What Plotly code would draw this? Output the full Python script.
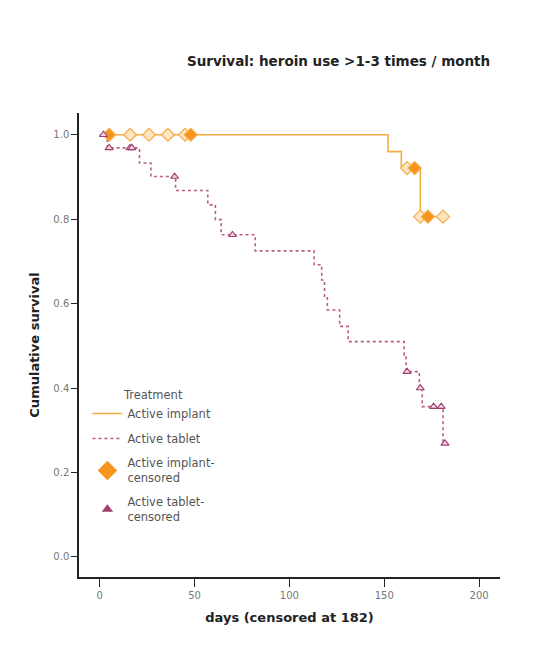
import plotly.graph_objects as go

# ---------------- data ----------------
implant_event_days = [152, 159, 169]
implant_event_surv = [0.960, 0.921, 0.806]
implant_cens_days = [5, 16, 26, 36, 45, 48, 162, 166, 169, 173, 181]
implant_cens_counts = [2, 1, 1, 1, 1, 2, 1, 2, 1, 2, 1]

tablet_event_days = [4, 21, 27, 40, 57, 61, 64, 82, 113, 117, 118.5, 120,
                     126.5, 131, 160.5, 161.5, 168.5, 170, 181]
tablet_event_surv = [0.969, 0.933, 0.901, 0.868, 0.834, 0.799, 0.763, 0.725,
                     0.692, 0.656, 0.617, 0.585, 0.546, 0.510, 0.478, 0.439,
                     0.400, 0.356, 0.269]
tablet_cens_days = [2, 5, 16, 17, 39.5, 70, 162, 169, 176, 180, 182]
tablet_cens_counts = [1, 1, 1, 1, 1, 1, 1, 1, 1, 1, 1]

follow_up_end = 182
x_ticks = [0, 50, 100, 150, 200]
y_ticks = [0.0, 0.2, 0.4, 0.6, 0.8, 1.0]

title_text = "Survival: heroin use >1-3 times / month"
x_title = "days (censored at 182)"
y_title = "Cumulative survival"
legend_title = "Treatment"
names = ["Active implant", "Active tablet",
         "Active implant-<br>censored", "Active tablet-<br>censored"]

# ---------------- helpers ----------------
def step_curve(ev_days, ev_surv, end):
    xs = [0] + list(ev_days) + [end]
    ys = [1.0] + list(ev_surv) + [ev_surv[-1]]
    return xs, ys

def surv_at(t, ev_days, ev_surv):
    s = 1.0
    for d, v in zip(ev_days, ev_surv):
        if d <= t:
            s = v
    return s

ORANGE = "#f4ad45"
ORANGE_FILL = "#fde6c4"
ORANGE_SOLID = "#f7941d"
PLUM = "#b95d88"
PLUM_DARK = "#a23e6c"
PLUM_FILL = "#f3d9e4"

fig = go.Figure()

# survival curves
ix, iy = step_curve(implant_event_days, implant_event_surv, follow_up_end)
fig.add_trace(go.Scatter(x=ix, y=iy, mode="lines", line_shape="hv",
                         line=dict(color=ORANGE, width=1.6),
                         name=names[0], legendgroup="a", showlegend=True,
                         hoverinfo="skip"))
tx, ty = step_curve(tablet_event_days, tablet_event_surv, follow_up_end)
fig.add_trace(go.Scatter(x=tx, y=ty, mode="lines", line_shape="hv",
                         line=dict(color=PLUM, width=1.6, dash="dot"),
                         name=names[1], legendgroup="b", showlegend=True,
                         hoverinfo="skip"))

# censored markers
ic_y = [surv_at(d, implant_event_days, implant_event_surv) for d in implant_cens_days]
fig.add_trace(go.Scatter(
    x=implant_cens_days, y=ic_y, mode="markers", showlegend=False,
    marker=dict(symbol="diamond", size=10,
                color=[ORANGE_SOLID if c > 1 else ORANGE_FILL for c in implant_cens_counts],
                line=dict(color=ORANGE, width=1.2))))
tc_y = [surv_at(d, tablet_event_days, tablet_event_surv) for d in tablet_cens_days]
fig.add_trace(go.Scatter(
    x=tablet_cens_days, y=tc_y, mode="markers", showlegend=False,
    marker=dict(symbol="triangle-up", size=7,
                color=[PLUM_DARK if c > 1 else PLUM_FILL for c in tablet_cens_counts],
                line=dict(color=PLUM_DARK, width=1.1))))

# legend proxies for censored markers
fig.add_trace(go.Scatter(x=[None], y=[None], mode="markers", name=names[2],
                         legendgroup="c",
                         marker=dict(symbol="diamond", size=15, color=ORANGE_SOLID,
                                     line=dict(color=ORANGE_SOLID, width=0))))
fig.add_trace(go.Scatter(x=[None], y=[None], mode="markers", name=names[3],
                         legendgroup="d",
                         marker=dict(symbol="triangle-up", size=10, color=PLUM_DARK,
                                     line=dict(color=PLUM_DARK, width=0))))

AX_FONT = "DejaVu Sans, Verdana, sans-serif"
fig.update_layout(
    width=534, height=655,
    margin=dict(l=79, r=34, t=113, b=78),
    paper_bgcolor="white", plot_bgcolor="white",
    font=dict(family=AX_FONT, color="#555"),
    title=dict(text="<b>" + title_text + "</b>", x=0.634, xanchor="center",
               y=1 - 61 / 655, yanchor="middle",
               font=dict(size=13.5, color="#222", family=AX_FONT)),
    xaxis=dict(range=[-10.9, 211], tickvals=x_ticks, ticktext=[str(v) for v in x_ticks],
               showgrid=False, zeroline=False, showline=True, linecolor="#222",
               linewidth=1.5, ticks="outside", ticklen=8, tickwidth=1.3, tickcolor="#222",
               tickfont=dict(size=10, color="#777"),
               title=dict(text="<b>" + x_title + "</b>", standoff=13,
                          font=dict(size=13, color="#222"))),
    yaxis=dict(range=[-0.0475, 1.0515], tickvals=y_ticks,
               ticktext=["%.1f" % v for v in y_ticks],
               showgrid=False, zeroline=False, showline=True, linecolor="#222",
               linewidth=1.5, ticks="outside", ticklen=6, tickwidth=1.3, tickcolor="#222",
               tickfont=dict(size=10, color="#777"),
               title=dict(text="<b>" + y_title + "</b>", standoff=11,
                          font=dict(size=13, color="#222"))),
    legend=dict(x=0.02, xanchor="left", y=0.416, yanchor="top",
                bgcolor="rgba(255,255,255,0)", itemwidth=30,
                font=dict(size=11.5, color="#555"), tracegroupgap=6,
                title=dict(text=legend_title, side="top center",
                           font=dict(size=11.5, color="#555"))),
)

fig.write_html("out.html")
